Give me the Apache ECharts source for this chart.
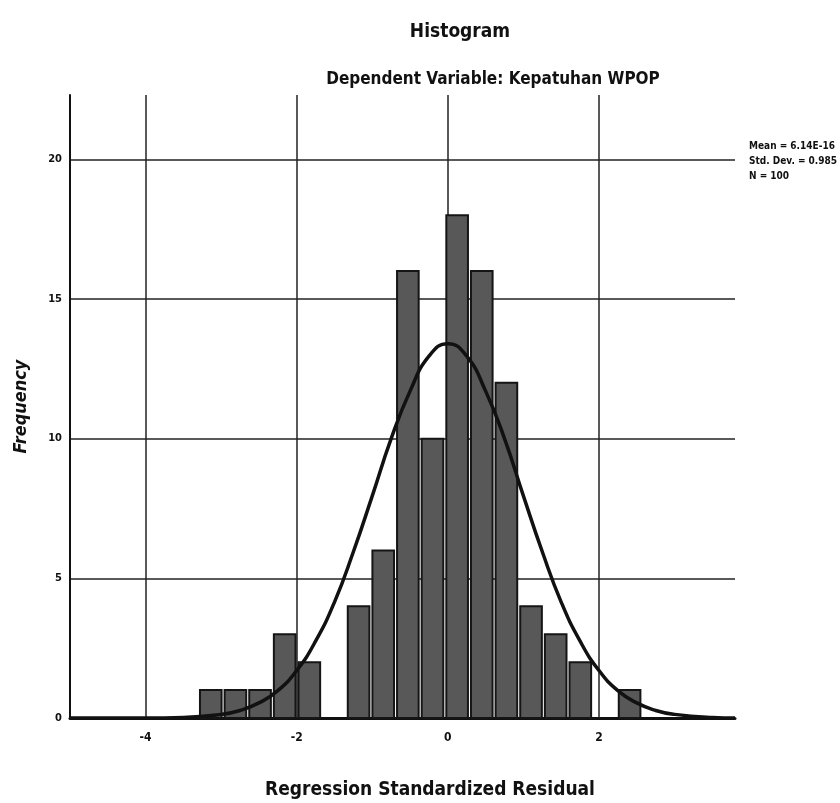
<!DOCTYPE html>
<html>
<head>
<meta charset="utf-8">
<script src="https://cdn.jsdelivr.net/npm/echarts@6/dist/echarts.min.js"></script>
<style>
html,body{margin:0;padding:0;background:#fff;}
#chart{width:840px;height:803px;}
</style>
</head>
<body>
<div id="chart"></div>
<script>
// histogram bins: first lower edge and width (residual units)
var binStart = -3.3;
var binWidth = 0.326;
// frequency per bin, left to right
var counts = [1, 1, 1, 3, 2, 0, 4, 6, 16, 10, 18, 16, 12, 4, 3, 2, 0, 1];
// normal curve
var curveX = [-5, -4, -3.5, -3, -2.75, -2.5, -2.25, -2, -1.75, -1.5, -1.25, -1, -0.75, -0.5, -0.25, 0, 0.25, 0.5, 0.75, 1, 1.25, 1.5, 1.75, 2, 2.25, 2.5, 2.75, 3, 3.5, 3.8];
var curveY = [0, 0, 0.02, 0.13, 0.27, 0.54, 0.98, 1.7, 2.75, 4.15, 5.95, 7.95, 10.0, 11.7, 12.95, 13.4, 12.95, 11.7, 10.0, 7.95, 5.95, 4.15, 2.75, 1.7, 0.98, 0.54, 0.27, 0.13, 0.02, 0];
var xLabels = [-4, -2, 0, 2];
var yTicks = [0, 5, 10, 15, 20];
var statsText = ['Mean = 6.14E-16', 'Std. Dev. = 0.985', 'N = 100'];

var FONT = '"Liberation Sans Narrow", "DejaVu Sans Condensed", "Liberation Sans", sans-serif';

var bins = [];
for (var i = 0; i < counts.length; i++) {
	bins.push([binStart + i * binWidth, binStart + (i + 1) * binWidth, counts[i]]);
}
var curve = [];
for (var j = 0; j < curveX.length; j++) {
	curve.push([curveX[j], curveY[j]]);
}

var myChart = echarts.init(document.getElementById('chart'));
var option = {
	backgroundColor: '#fff',
	animation: false,
	title: [
		{text: 'Histogram', left: 455, top: 18, textAlign: 'center',
			textStyle: {fontFamily: FONT, fontWeight: 'bold', fontSize: 19, color: '#111'}},
		{text: 'Dependent Variable: Kepatuhan WPOP', left: 488, top: 66, textAlign: 'center',
			textStyle: {fontFamily: FONT, fontWeight: 'bold', fontSize: 17, color: '#111'}},
		{text: statsText.join('\n'), left: 744, top: 134,
			textStyle: {fontFamily: FONT, fontWeight: 'bold', fontSize: 10, lineHeight: 15, color: '#111'}},
		{text: 'Regression Standardized Residual', left: 425, top: 776, textAlign: 'center',
			textStyle: {fontFamily: FONT, fontWeight: 'bold', fontSize: 19, color: '#111'}}
	],
	grid: {left: 70, right: 105, top: 95, bottom: 85},
	xAxis: {
		type: 'value', min: -5, max: 3.8,
		axisLine: {onZero: false, lineStyle: {color: '#111', width: 3}},
		axisTick: {show: false},
		splitLine: {show: false},
		axisLabel: {customValues: xLabels, fontFamily: FONT, fontWeight: 'bold', fontSize: 12, color: '#111', margin: 14}
	},
	yAxis: {
		type: 'value', min: 0, max: 22.3, interval: 5,
		name: 'Frequency', nameLocation: 'middle', nameGap: 40,
		nameTextStyle: {fontFamily: FONT, fontWeight: 'bold', fontStyle: 'italic', fontSize: 18, color: '#111'},
		axisLine: {show: true, onZero: false, lineStyle: {color: '#111', width: 2}},
		axisTick: {show: false},
		axisLabel: {showMaxLabel: false, fontFamily: FONT, fontWeight: 'bold', fontSize: 11, color: '#111', margin: 8,
			formatter: function (v) { return yTicks.indexOf(v) >= 0 ? String(v) : ''; }},
		splitLine: {show: true, showMaxLine: false, lineStyle: {color: '#222', width: 1.5}}
	},
	series: [
		{
			type: 'custom',
			data: bins,
			z: 2,
			renderItem: function (params, api) {
				var p0 = api.coord([api.value(0), api.value(2)]);
				var p1 = api.coord([api.value(1), 0]);
				if (api.value(2) <= 0) { return null; }
				return {
					type: 'rect',
					shape: {x: p0[0] + 1.5, y: p0[1], width: p1[0] - p0[0] - 3, height: p1[1] - p0[1]},
					style: {fill: '#585858', stroke: '#151515', lineWidth: 2}
				};
			},
			markLine: {
				silent: true, symbol: 'none', label: {show: false},
				lineStyle: {color: '#222', width: 1.5, type: 'solid'},
				z: 1,
				data: xLabels.map(function (v) { return {xAxis: v}; })
			}
		},
		{
			type: 'line',
			data: curve,
			smooth: true,
			showSymbol: false,
			z: 5,
			lineStyle: {color: '#111', width: 3.5}
		}
	]
};
myChart.setOption(option);
</script>
</body>
</html>
